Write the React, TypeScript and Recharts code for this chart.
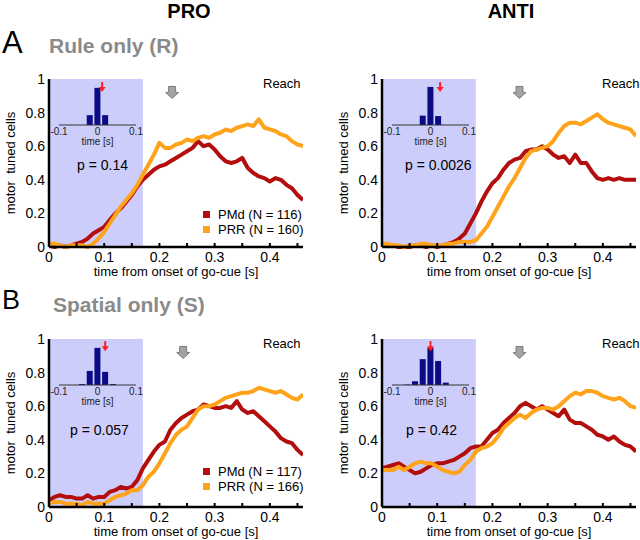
import React from "react";
import {
  LineChart,
  Line,
  XAxis,
  YAxis,
  ReferenceArea,
  ReferenceDot,
  Legend,
  BarChart,
  Bar,
} from "recharts";

const FONT = '"Liberation Sans", Arial, Helvetica, sans-serif';
const PMD_COLOR = "#b30d0d";
const PRR_COLOR = "#ffa31a";
const SHADE = "#cdcdfb";
const BAR_COLOR = "#0b0b86";

// time from go-cue onset [s]
const TIME = [
  0, 0.01, 0.02, 0.03, 0.04, 0.05, 0.06, 0.07, 0.08, 0.09, 0.1, 0.11, 0.12, 0.13, 0.14, 0.15,
  0.16, 0.17, 0.18, 0.19, 0.2, 0.21, 0.22, 0.23, 0.24, 0.25, 0.26, 0.27, 0.28, 0.29, 0.3, 0.31,
  0.32, 0.33, 0.34, 0.35, 0.36, 0.37, 0.38, 0.39, 0.4, 0.41, 0.42, 0.43, 0.44, 0.45, 0.46,
];
const X_TICKS = [0, 0.05, 0.1, 0.15, 0.2, 0.25, 0.3, 0.35, 0.4, 0.45];
const Y_TICKS = [0, 0.2, 0.4, 0.6, 0.8, 1];
const SHADE_END = 0.17;

// fraction of motor tuned cells
const RULE_PRO_PMD = [
  0.01, 0.0, 0.01, 0.0, 0.01, 0.02, 0.03, 0.05, 0.08, 0.1, 0.12, 0.16, 0.2, 0.23, 0.27, 0.31,
  0.36, 0.4, 0.43, 0.46, 0.48, 0.49, 0.51, 0.53, 0.55, 0.57, 0.59, 0.63, 0.6, 0.61, 0.58, 0.54,
  0.51, 0.5, 0.51, 0.53, 0.47, 0.44, 0.42, 0.41, 0.39, 0.41, 0.4, 0.37, 0.35, 0.31, 0.28,
];
const RULE_PRO_PRR = [
  0.02, 0.02, 0.01, 0.0, 0.01, 0.01, 0.01, 0.0, 0.02, 0.05, 0.09, 0.14, 0.19, 0.24, 0.28, 0.32,
  0.37, 0.43, 0.49, 0.55, 0.62, 0.59, 0.59, 0.61, 0.62, 0.64, 0.63, 0.65, 0.66, 0.65, 0.67, 0.68,
  0.7, 0.69, 0.71, 0.72, 0.73, 0.72, 0.76, 0.71, 0.7, 0.69, 0.67, 0.66, 0.63, 0.61, 0.6,
];
const RULE_ANTI_PMD = [
  0.02, 0.01, 0.01, 0.0, 0.0, 0.0, 0.01, 0.01, 0.0, 0.01, 0.0, 0.01, 0.02, 0.03, 0.05, 0.08,
  0.14, 0.2, 0.27, 0.33, 0.38, 0.41, 0.46, 0.5, 0.52, 0.53, 0.57, 0.58, 0.58, 0.6, 0.58, 0.55,
  0.53, 0.54, 0.5, 0.55, 0.5, 0.5, 0.45, 0.41, 0.4, 0.41, 0.4, 0.41, 0.4, 0.4, 0.4,
];
const RULE_ANTI_PRR = [
  0.02, 0.02, 0.01, 0.01, 0.0, 0.01, 0.01, 0.02, 0.02, 0.01, 0.01, 0.01, 0.02, 0.02, 0.03, 0.03,
  0.03, 0.04, 0.08, 0.12, 0.18, 0.24, 0.3, 0.36, 0.41, 0.47, 0.53, 0.57, 0.58, 0.59, 0.6, 0.63,
  0.68, 0.72, 0.74, 0.74, 0.73, 0.75, 0.77, 0.79, 0.76, 0.74, 0.73, 0.72, 0.71, 0.7, 0.66,
];
const SPAT_PRO_PMD = [
  0.04, 0.06, 0.07, 0.06, 0.06, 0.05, 0.05, 0.07, 0.05, 0.06, 0.06, 0.09, 0.1, 0.12, 0.11, 0.12,
  0.16, 0.23, 0.28, 0.33, 0.37, 0.39, 0.46, 0.5, 0.53, 0.55, 0.57, 0.58, 0.61, 0.6, 0.59, 0.59,
  0.6, 0.59, 0.63, 0.58, 0.56, 0.57, 0.54, 0.51, 0.48, 0.45, 0.41, 0.39, 0.38, 0.34, 0.31,
];
const SPAT_PRO_PRR = [
  0.02, 0.03, 0.03, 0.02, 0.02, 0.02, 0.01, 0.03, 0.02, 0.02, 0.02, 0.04, 0.06, 0.07, 0.08, 0.1,
  0.1, 0.13, 0.18, 0.21, 0.26, 0.32, 0.38, 0.43, 0.46, 0.48, 0.53, 0.58, 0.6, 0.6, 0.61, 0.63,
  0.65, 0.66, 0.67, 0.68, 0.68, 0.69, 0.71, 0.7, 0.69, 0.68, 0.69, 0.67, 0.65, 0.64, 0.67,
];
const SPAT_ANTI_PMD = [
  0.23, 0.24, 0.25, 0.26, 0.24, 0.22, 0.2, 0.21, 0.23, 0.25, 0.26, 0.26, 0.27, 0.28, 0.3, 0.32,
  0.35, 0.36, 0.36, 0.4, 0.44, 0.46, 0.5, 0.53, 0.56, 0.6, 0.62, 0.6, 0.58, 0.6, 0.58, 0.56,
  0.54, 0.58, 0.52, 0.5, 0.5, 0.48, 0.46, 0.43, 0.42, 0.4, 0.42, 0.39, 0.37, 0.36, 0.33,
];
const SPAT_ANTI_PRR = [
  0.22, 0.22, 0.22, 0.24, 0.22, 0.24, 0.26, 0.27, 0.26, 0.26, 0.24, 0.22, 0.21, 0.2, 0.21, 0.25,
  0.28, 0.33, 0.35, 0.36, 0.38, 0.42, 0.47, 0.5, 0.53, 0.55, 0.53, 0.56, 0.58, 0.59, 0.59, 0.58,
  0.6, 0.63, 0.66, 0.68, 0.67, 0.69, 0.69, 0.68, 0.66, 0.65, 0.64, 0.65, 0.63, 0.6, 0.59,
];

// inset histograms of onset differences
const BINS = [-0.1, -0.08, -0.06, -0.04, -0.02, 0, 0.02, 0.04, 0.06, 0.08, 0.1];
const INSET_TICKS = [-0.1, 0, 0.1];
const HIST_RULE_PRO = [0, 0, 0, 0, 0.21, 0.79, 0.21, 0, 0, 0, 0];
const HIST_RULE_ANTI = [0, 0, 0, 0, 0.2, 0.81, 0.19, 0, 0, 0, 0];
const HIST_SPAT_PRO = [0, 0, 0, 0.02, 0.3, 0.79, 0.28, 0.02, 0, 0, 0];
const HIST_SPAT_ANTI = [0, 0, 0.01, 0.08, 0.55, 0.79, 0.51, 0.05, 0, 0, 0];

function XTick(props: any) {
  const { x, y, payload } = props;
  const v = payload.value;
  const labelled = Math.round(v * 100) % 10 === 0;
  return (
    <g>
      <line x1={x} x2={x} y1={y - 5} y2={y - 9} stroke="#000" strokeWidth={2} />
      {labelled && (
        <text x={x} y={y} dy="0.71em" textAnchor="middle" fontSize={14} fontFamily={FONT} fill="#000">
          {String(v)}
        </text>
      )}
    </g>
  );
}

function CueArrow(props: any) {
  const { cx, cy } = props;
  const pts = [
    [cx - 3.5, cy - 6],
    [cx + 3.5, cy - 6],
    [cx + 3.5, cy],
    [cx + 6.5, cy],
    [cx, cy + 6],
    [cx - 6.5, cy],
    [cx - 3.5, cy],
  ]
    .map((p) => p.join(","))
    .join(" ");
  return <polygon points={pts} fill="#a3a3a3" stroke="#7c7c7c" strokeWidth={1} />;
}

function PeakArrow(props: any) {
  const { cx, cy } = props;
  return (
    <g>
      <line x1={cx} x2={cx} y1={cy - 10} y2={cy - 4} stroke="#ff1e1e" strokeWidth={2} />
      <polygon points={`${cx - 3.5},${cy - 5} ${cx + 3.5},${cy - 5} ${cx},${cy}`} fill="#ff1e1e" />
    </g>
  );
}

const renderLegend = (props: any) => (
  <div style={{ fontFamily: FONT, fontSize: 13, color: "#000" }}>
    {(props.payload || []).map((e: any) => (
      <div key={e.value} style={{ display: "flex", alignItems: "center", height: 15 }}>
        <span style={{ display: "inline-block", width: 7, height: 7, background: e.color, marginRight: 8 }} />
        {e.value}
      </div>
    ))}
  </div>
);

type PanelProps = {
  plotLeft: number;
  plotTop: number;
  pmd: number[];
  prr: number[];
  pmdName: string;
  prrName: string;
  showLegend: boolean;
  legendTop: number;
  cue: number;
  pText: string;
  pLeft: number;
  pTop: number;
  reachLeft: number;
  hist: number[];
  peak: number;
  peakY: number;
};

const PLOT_W = 254;
const PLOT_H = 168;

function Panel(p: PanelProps) {
  const data = TIME.map((t, i) => ({ t, pmd: p.pmd[i], prr: p.prr[i] }));
  const hist = BINS.map((b, i) => ({ b, n: p.hist[i] }));
  const chartLeft = p.plotLeft - 49;
  const chartTop = p.plotTop - 20;
  const base = p.plotTop + 46;
  return (
    <>
      <div style={{ position: "absolute", left: chartLeft, top: chartTop }}>
        <LineChart
          width={49 + PLOT_W + 4}
          height={20 + PLOT_H + 45}
          data={data}
          margin={{ top: 20, right: 4, bottom: 0, left: 0 }}
        >
          <ReferenceArea x1={0} x2={SHADE_END} y1={0} y2={1} fill={SHADE} fillOpacity={1} stroke="none" />
          <XAxis
            dataKey="t"
            type="number"
            domain={[0, 0.46]}
            ticks={X_TICKS}
            interval={0}
            tick={<XTick />}
            tickLine={false}
            tickSize={3}
            tickMargin={2}
            height={45}
            axisLine={{ stroke: "#000", strokeWidth: 2.5 }}
            allowDataOverflow
            label={{
              value: "time from onset of go-cue [s]",
              position: "insideBottom",
              offset: 16,
              style: { fontSize: 13, fill: "#000", fontFamily: FONT },
            }}
          />
          <YAxis
            type="number"
            domain={[0, 1]}
            ticks={Y_TICKS}
            interval={0}
            width={49}
            tickLine={false}
            tickSize={3}
            tickMargin={1}
            tick={{ fontSize: 14, fill: "#000", fontFamily: FONT }}
            axisLine={{ stroke: "#000", strokeWidth: 2.5 }}
            label={{
              value: "motor\u00a0 tuned cells",
              angle: -90,
              position: "insideLeft",
              offset: 10,
              style: { fontSize: 13, fill: "#000", fontFamily: FONT, textAnchor: "middle" },
            }}
          />
          <ReferenceDot x={p.cue} y={0.92} r={0} shape={CueArrow} ifOverflow="visible" />
          <Line
            dataKey="pmd"
            name={p.pmdName}
            stroke={PMD_COLOR}
            strokeWidth={4}
            dot={false}
            activeDot={false}
            strokeLinejoin="round"
            isAnimationActive={false}
          />
          <Line
            dataKey="prr"
            name={p.prrName}
            stroke={PRR_COLOR}
            strokeWidth={4}
            dot={false}
            activeDot={false}
            strokeLinejoin="round"
            isAnimationActive={false}
          />
          {p.showLegend && (
            <Legend
              layout="vertical"
              align="center"
              verticalAlign="middle"
              content={renderLegend}
              wrapperStyle={{ left: 203 - chartLeft, top: p.legendTop, width: "auto" }}
            />
          )}
        </LineChart>
      </div>
      <div style={{ position: "absolute", left: p.plotLeft, top: base - 55 }}>
        <BarChart width={97} height={80} data={hist} margin={{ top: 8, right: 10, bottom: 0, left: 10 }}>
          <XAxis
            dataKey="b"
            type="number"
            domain={[-0.1, 0.1]}
            ticks={INSET_TICKS}
            tickLine={false}
            tickSize={2}
            tickMargin={1}
            height={25}
            interval={0}
            tick={{ fontSize: 10, fill: "#222", fontFamily: FONT }}
            axisLine={{ stroke: "#333", strokeWidth: 1 }}
            label={{
              value: "time [s]",
              position: "insideBottom",
              offset: 5,
              style: { fontSize: 10, fill: "#222", fontFamily: FONT },
            }}
          />
          <YAxis hide domain={[0, 1]} />
          <Bar dataKey="n" fill={BAR_COLOR} isAnimationActive={false} />
          <ReferenceDot x={p.peak} y={p.peakY} r={0} shape={PeakArrow} ifOverflow="visible" />
        </BarChart>
      </div>
      <div style={{ position: "absolute", left: p.pLeft, top: p.pTop - 8, fontSize: 14, lineHeight: "16px" }}>
        {p.pText}
      </div>
      <div style={{ position: "absolute", left: p.reachLeft, top: p.plotTop - 3, fontSize: 13, lineHeight: "15px" }}>
        Reach
      </div>
    </>
  );
}

export default function App() {
  return (
    <div
      style={{
        position: "absolute",
        left: 0,
        top: 0,
        width: 640,
        height: 540,
        background: "#fff",
        overflow: "hidden",
        fontFamily: FONT,
        color: "#000",
      }}
    >
      <div style={{ position: "absolute", left: 149, width: 80, top: 0, textAlign: "center", fontSize: 20, fontWeight: "bold", lineHeight: "22px" }}>
        PRO
      </div>
      <div style={{ position: "absolute", left: 471, width: 80, top: 0, textAlign: "center", fontSize: 20, fontWeight: "bold", lineHeight: "22px" }}>
        ANTI
      </div>
      <div style={{ position: "absolute", left: 2, top: 26, fontSize: 31, lineHeight: "34px" }}>A</div>
      <div style={{ position: "absolute", left: 49, top: 33, fontSize: 21, fontWeight: "bold", color: "#8a8a8a", lineHeight: "25px" }}>
        Rule only (R)
      </div>
      <div style={{ position: "absolute", left: 2, top: 285, fontSize: 27, lineHeight: "30px" }}>B</div>
      <div style={{ position: "absolute", left: 53, top: 292, fontSize: 21, fontWeight: "bold", color: "#8a8a8a", lineHeight: "25px" }}>
        Spatial only (S)
      </div>

      <Panel
        plotLeft={49}
        plotTop={79}
        pmd={RULE_PRO_PMD}
        prr={RULE_PRO_PRR}
        pmdName="PMd (N = 116)"
        prrName="PRR (N = 160)"
        showLegend
        legendTop={148}
        cue={0.223}
        pText="p = 0.14"
        pLeft={77}
        pTop={165}
        reachLeft={263}
        hist={HIST_RULE_PRO}
        peak={0.012}
        peakY={0.7}
      />
      <Panel
        plotLeft={382}
        plotTop={79}
        pmd={RULE_ANTI_PMD}
        prr={RULE_ANTI_PRR}
        pmdName="PMd"
        prrName="PRR"
        showLegend={false}
        legendTop={0}
        cue={0.249}
        pText="p = 0.0026"
        pLeft={405}
        pTop={165}
        reachLeft={602}
        hist={HIST_RULE_ANTI}
        peak={0.025}
        peakY={0.7}
      />
      <Panel
        plotLeft={49}
        plotTop={339}
        pmd={SPAT_PRO_PMD}
        prr={SPAT_PRO_PRR}
        pmdName="PMd (N = 117)"
        prrName="PRR (N = 166)"
        showLegend
        legendTop={145}
        cue={0.243}
        pText="p = 0.057"
        pLeft={70}
        pTop={430}
        reachLeft={263}
        hist={HIST_SPAT_PRO}
        peak={0.02}
        peakY={0.72}
      />
      <Panel
        plotLeft={382}
        plotTop={339}
        pmd={SPAT_ANTI_PMD}
        prr={SPAT_ANTI_PRR}
        pmdName="PMd"
        prrName="PRR"
        showLegend={false}
        legendTop={0}
        cue={0.249}
        pText="p = 0.42"
        pLeft={406}
        pTop={430}
        reachLeft={602}
        hist={HIST_SPAT_ANTI}
        peak={0}
        peakY={0.72}
      />
    </div>
  );
}
